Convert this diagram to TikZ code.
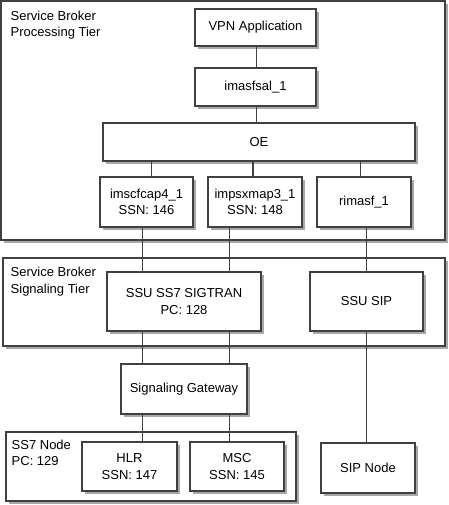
\documentclass[tikz,border=0pt]{standalone}
\usepackage{fontspec}
\setmainfont{Liberation Sans}
\usetikzlibrary{shadows,calc}
\definecolor{linegray}{HTML}{404040}
\definecolor{shadowgray}{HTML}{A8A8A8}
\begin{document}
\begin{tikzpicture}[x=1bp,y=-1bp,
  font=\fontsize{13bp}{16.5bp}\selectfont,
  box/.style={draw=linegray, line width=1.3bp, fill=white, inner sep=0pt, align=center,
    preaction={fill=shadowgray, transform canvas={xshift=2.6bp, yshift=-2.6bp}}},
  lbl/.style={anchor=base west, align=left, inner sep=0pt},
  link/.style={draw=linegray, line width=1.3bp}]
\useasboundingbox (0,0) rectangle (449,505);
% tiers
\node[box, minimum width=444bp, minimum height=239bp] (tier1) at (223,120.5) {};
\node[lbl] (tier1lbl) at (10.5,36.7) {Service Broker\\Processing Tier};
\node[box, minimum width=442bp, minimum height=88bp] (tier2) at (224,302) {};
\node[lbl] (tier2lbl) at (10.5,293.3) {Service Broker\\Signaling Tier};
\node[box, minimum width=290bp, minimum height=69bp] (ss7node) at (151,466.5) {};
\node[lbl] (ss7lbl) at (11.5,465.7) {SS7 Node\\PC: 129};
% boxes
\node[box, minimum width=121bp, minimum height=37bp] (vpn) at (255.5,27.5) {VPN Application};
\node[box, minimum width=121bp, minimum height=38bp] (imasfsal) at (255.5,87) {imasfsal\_1};
\node[box, minimum width=312bp, minimum height=38bp] (oe) at (259,142) {OE};
\node[box, minimum width=93bp, minimum height=50bp] (imscf) at (146.5,202) {imscfcap4\_1\\SSN: 146};
\node[box, minimum width=94bp, minimum height=50bp] (impsx) at (255,202) {impsxmap3\_1\\SSN: 148};
\node[box, minimum width=94bp, minimum height=50bp] (rimasf) at (364,202) {rimasf\_1};
\node[box, minimum width=154bp, minimum height=59bp] (ssuss7) at (184,301.5) {SSU SS7 SIGTRAN\\PC: 128};
\node[box, minimum width=113bp, minimum height=59bp] (ssusip) at (366.5,301.5) {SSU SIP};
\node[box, minimum width=126bp, minimum height=50bp] (sg) at (184,389) {Signaling Gateway};
\node[box, minimum width=95bp, minimum height=49bp] (hlr) at (129.5,466.5) {HLR\\SSN: 147};
\node[box, minimum width=94bp, minimum height=49bp] (msc) at (237,466.5) {MSC\\SSN: 145};
\node[box, minimum width=94bp, minimum height=50bp] (sipnode) at (368,468) {SIP Node};
% connectors
\path[link] ($(vpn.south)+(1.2,0)$) coordinate (c1) -- (c1 |- imasfsal.north);
\path[link] ($(imasfsal.south)+(1.2,0)$) coordinate (c2) -- (c2 |- oe.north);
\path[link] ($(imscf.north)+(5.2,0)$) coordinate (c3) -- (c3 |- oe.south);
\path[link] ($(impsx.north)+(-2,0)$) coordinate (c4) -- (c4 |- oe.south);
\path[link] ($(rimasf.north)+(-3.3,0)$) coordinate (c5) -- (c5 |- oe.south);
\path[link] ($(imscf.south)+(-3.8,0)$) coordinate (c6) -- (c6 |- ssuss7.north);
\path[link] ($(impsx.south)+(-25.6,0)$) coordinate (c7) -- (c7 |- ssuss7.north);
\path[link] ($(rimasf.south)+(2.7,0)$) coordinate (c8) -- (c8 |- ssusip.north);
\path[link] (c6 |- ssuss7.south) -- (c6 |- sg.north);
\path[link] (c7 |- ssuss7.south) -- (c7 |- sg.north);
\path[link] (c6 |- sg.south) -- (c6 |- hlr.north);
\path[link] (c7 |- sg.south) -- (c7 |- msc.north);
\path[link] (c8 |- ssusip.south) -- (c8 |- sipnode.north);
\end{tikzpicture}
\end{document}
